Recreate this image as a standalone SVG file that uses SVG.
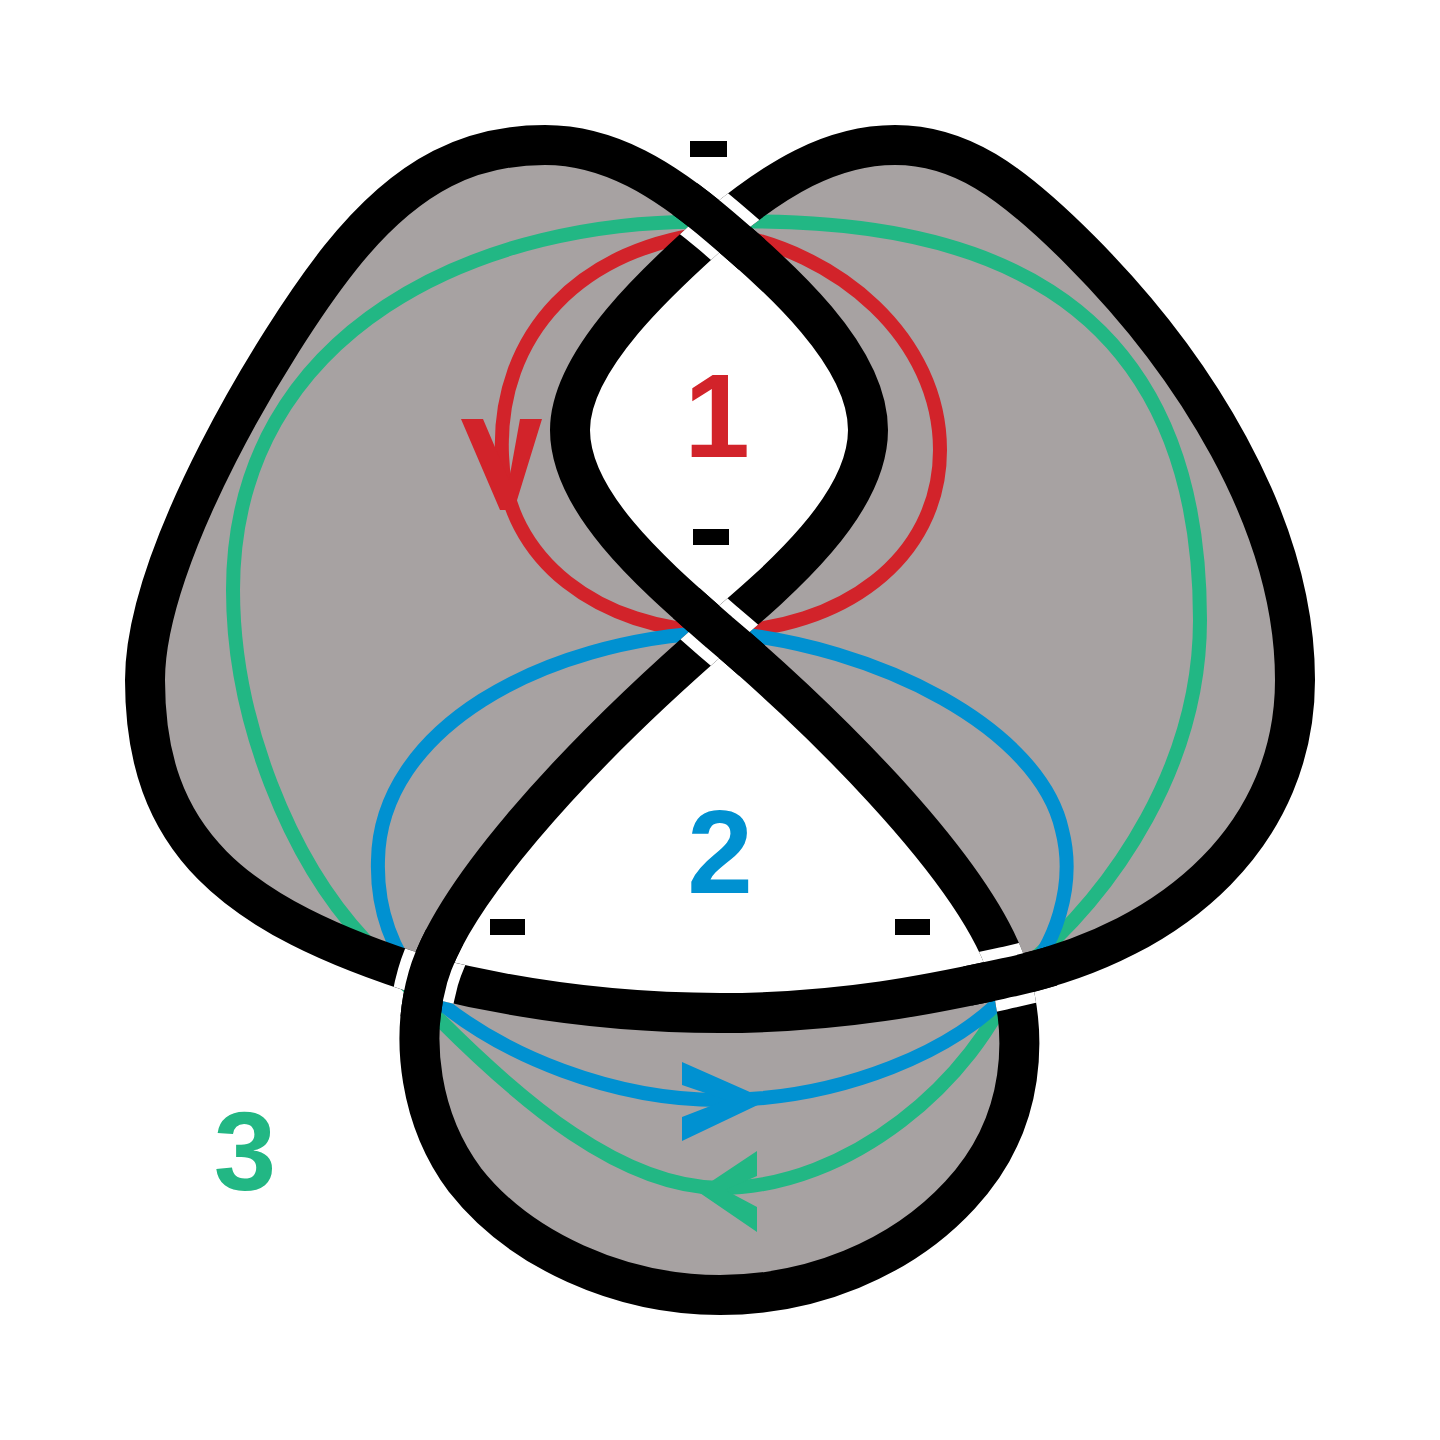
<svg xmlns="http://www.w3.org/2000/svg" width="1440" height="1440" viewBox="0 0 1440 1440">
<style>
.face{fill:#a7a2a2;stroke:none}
.loop{fill:none;stroke-width:14}
.red{stroke:#d2232a}.blue{stroke:#0091d1}.green{stroke:#22b784}
.k{fill:none;stroke:#000;stroke-width:40;stroke-linecap:butt}
.gap{fill:none;stroke:#fff;stroke-width:62;stroke-linecap:butt}
.mk{fill:none;stroke:#fff;stroke-width:40;stroke-linecap:butt}
.lbl{font-family:"Liberation Sans",Arial,sans-serif;font-weight:bold;text-anchor:middle}
</style>
<defs>
<path id="arcA" d="M428,977 C230,915 145,840 145,680 C145,555 275,340 340,258 C410,170 475,145 545,145 C610,145 665,180 719,226 C780,278 868,355 868,430 C868,505 780,580 719,632"/>
<path id="arcC" d="M428,977 C500,995 600,1013 720,1013 C850,1013 945,991 1010,977 C1180,940 1295,830 1295,680 C1295,520 1190,360 1080,250 C1010,180 960,145 895,145 C830,145 775,180 719,226"/>
<path id="arcD" d="M719,226 C660,278 570,360 570,430 C570,505 660,580 719,632 C800,700 980,868 1010,977"/>
<path id="arcE" d="M1010,977 C1025,1030 1030,1120 960,1195 C900,1260 810,1295 720,1295 C620,1295 520,1250 465,1180 C420,1120 410,1040 428,977 C450,900 560,770 719,632"/>
<mask id="mT" maskUnits="userSpaceOnUse" x="0" y="0" width="1440" height="1440"><use href="#arcC" class="mk"/><use href="#arcD" class="mk"/></mask>
<mask id="mM" maskUnits="userSpaceOnUse" x="0" y="0" width="1440" height="1440"><use href="#arcA" class="mk"/><use href="#arcE" class="mk"/></mask>
<mask id="mBL" maskUnits="userSpaceOnUse" x="0" y="0" width="1440" height="1440"><use href="#arcA" class="mk"/><use href="#arcC" class="mk"/></mask>
<mask id="mBR" maskUnits="userSpaceOnUse" x="0" y="0" width="1440" height="1440"><use href="#arcD" class="mk"/><use href="#arcE" class="mk"/></mask>
<clipPath id="cT"><circle cx="719" cy="226" r="48"/></clipPath>
<clipPath id="cM"><circle cx="719" cy="632" r="48"/></clipPath>
<clipPath id="cBL"><circle cx="428" cy="977" r="48"/></clipPath>
<clipPath id="cBR"><circle cx="1010" cy="977" r="48"/></clipPath>
</defs>
<rect width="1440" height="1440" fill="#fff"/>
<g id="faces">
<path class="face" d="M428,977 C230,915 145,840 145,680 C145,555 275,340 340,258 C410,170 475,145 545,145 C610,145 665,180 719,226 C660,278 570,360 570,430 C570,505 660,580 719,632 C560,770 450,900 428,977 Z"/>
<path class="face" d="M1010,977 C1180,940 1295,830 1295,680 C1295,520 1190,360 1080,250 C1010,180 960,145 895,145 C830,145 775,180 719,226 C780,278 868,355 868,430 C868,505 780,580 719,632 C800,700 980,868 1010,977 Z"/>
<path class="face" d="M428,977 C500,995 600,1013 720,1013 C850,1013 945,991 1010,977 C1025,1030 1030,1120 960,1195 C900,1260 810,1295 720,1295 C620,1295 520,1250 465,1180 C420,1120 410,1040 428,977 Z"/>
</g>
<g id="loops">
<path id="loop-red" class="loop red" d="M719,232 C580,245 497,335 502,455 C505,560 600,630 719,632 C840,630 940,560 940,450 C940,340 840,250 719,232 Z"/>
<path id="loop-green" class="loop green" d="M719,222 C480,215 233,330 233,590 C233,720 290,860 365,940 C390,967 410,990 440,1020 C520,1100 620,1187 720,1188 C850,1188 975,1080 1015,975 C1120,890 1200,760 1200,620 C1200,280 960,215 719,222 Z"/>
<path id="loop-blue" class="loop blue" d="M719,632 C540,640 380,730 378,860 C376,920 400,960 420,985 C500,1060 620,1100 720,1100 C840,1100 960,1050 1010,990 C1060,950 1075,880 1062,830 C1040,730 880,645 719,632 Z"/>
</g>
<g id="arrows">
<polygon fill="#d2232a" points="461,419 483,419 509,480 520,419 542,419 514,510 500,510"/>
<polygon fill="#0091d1" points="682,1062 768,1100 682,1141 682,1117 726,1100 682,1085"/>
<polygon fill="#22b784" points="757,1151 697,1191 757,1232 757,1207 725,1190 757,1176"/>
</g>
<g id="knot">
<use href="#arcA" class="k"/>
<use href="#arcC" class="k"/>
<use href="#arcD" class="k"/>
<use href="#arcE" class="k"/>
</g>
<g id="crossings">
<g clip-path="url(#cT)"><use href="#arcA" class="gap" mask="url(#mT)"/><use href="#arcA" class="k"/></g>
<g clip-path="url(#cM)"><use href="#arcD" class="gap" mask="url(#mM)"/><use href="#arcD" class="k"/></g>
<g clip-path="url(#cBL)"><use href="#arcE" class="gap" mask="url(#mBL)"/><use href="#arcE" class="k"/></g>
<g clip-path="url(#cBR)"><use href="#arcC" class="gap" mask="url(#mBR)"/><use href="#arcC" class="k"/></g>
</g>
<g id="signs" fill="#000">
<rect x="690" y="141" width="37" height="16"/>
<rect x="693" y="529" width="36" height="16"/>
<rect x="490" y="919" width="35" height="16"/>
<rect x="895" y="919" width="35" height="16"/>
</g>
<g id="labels">
<text class="lbl" x="717" y="457" font-size="118" fill="#d2232a">1</text>
<text class="lbl" x="720" y="893" font-size="118" fill="#0091d1">2</text>
<text class="lbl" x="245" y="1190" font-size="112" fill="#22b784">3</text>
</g>
</svg>
